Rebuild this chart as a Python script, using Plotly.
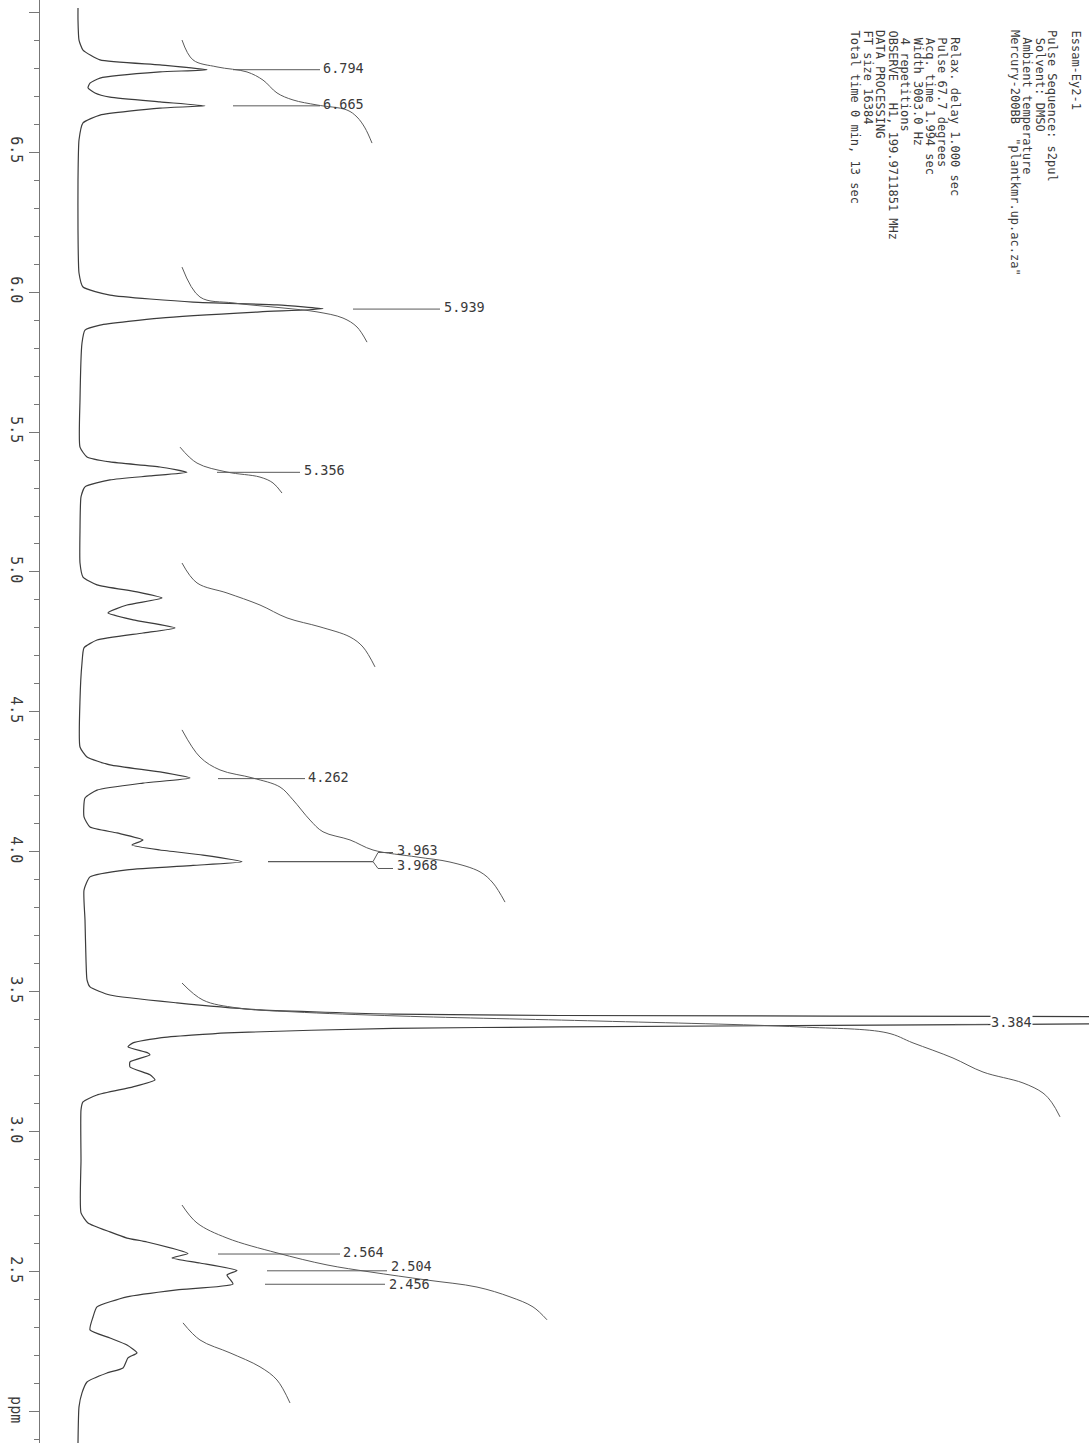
import plotly.graph_objects as go

# ---------------- data ----------------
# 1H spectrum trace: chemical shift (ppm) and intensity (arbitrary units)
spec_ppm = [7.014, 6.971, 6.900, 6.864, 6.829, 6.811, 6.794, 6.786, 6.764, 6.746,
            6.729, 6.711, 6.696, 6.679, 6.665, 6.657, 6.632, 6.604, 6.543, 6.400,
            6.221, 6.068, 6.018, 5.989, 5.964, 5.954, 5.940, 5.929, 5.907, 5.882,
            5.864, 5.818, 5.614, 5.446, 5.411, 5.393, 5.375, 5.356, 5.343, 5.329,
            5.304, 5.268, 5.150, 5.032, 4.982, 4.954, 4.929, 4.907, 4.882, 4.854,
            4.829, 4.800, 4.782, 4.757, 4.729, 4.675, 4.543, 4.375, 4.339, 4.311,
            4.286, 4.264, 4.246, 4.221, 4.193, 4.125, 4.089, 4.068, 4.043, 4.025,
            4.007, 3.989, 3.965, 3.952, 3.936, 3.911, 3.864, 3.757, 3.614, 3.543,
            3.518, 3.489, 3.461, 3.436, 3.421, 3.416, 3.412, 3.400, 3.386, 3.375,
            3.370, 3.354, 3.336, 3.318, 3.304, 3.282, 3.275, 3.250, 3.232, 3.204,
            3.186, 3.161, 3.132, 3.107, 3.079, 2.900, 2.711, 2.675, 2.643, 2.621,
            2.607, 2.566, 2.550, 2.532, 2.505, 2.489, 2.457, 2.436, 2.411, 2.375,
            2.339, 2.293, 2.264, 2.239, 2.211, 2.193, 2.157, 2.139, 2.107, 2.068,
            2.018, 1.889]
spec_int = [-1, -1, 0, 4, 21, 81, 128, 81, 21, 11,
            9, 16, 31, 81, 126, 81, 21, 4, 0, -1,
            -1, 0, 4, 31, 114, 198, 244, 181, 81, 21,
            6, 3, 1, 1, 8, 31, 81, 108, 71, 31,
            6, 2, 1, 1, 4, 18, 58, 83, 48, 29,
            54, 96, 64, 18, 5, 3, 1, 1, 8, 31,
            81, 111, 64, 18, 6, 5, 11, 38, 64, 53,
            81, 124, 163, 114, 48, 11, 5, 6, 7, 8,
            11, 31, 98, 181, 314, 481, 1010, 1600, 1010, 481,
            314, 148, 81, 54, 49, 69, 71, 51, 51, 71,
            76, 54, 18, 4, 2, 2, 2, 9, 31, 48,
            68, 109, 93, 121, 158, 148, 154, 98, 48, 18,
            14, 11, 31, 48, 58, 49, 44, 28, 8, 3,
            0, -1]

# integral curves
int1_ppm = [6.900, 6.829, 6.804, 6.786, 6.757, 6.711, 6.686, 6.668, 6.650, 6.625, 6.586, 6.532]
int1_val = [103, 114, 138, 168, 184, 198, 214, 238, 268, 278, 286, 293]
int2_ppm = [6.089, 5.982, 5.961, 5.943, 5.929, 5.907, 5.875, 5.821]
int2_val = [103, 121, 154, 204, 238, 264, 278, 288]
int3_ppm = [5.446, 5.389, 5.357, 5.339, 5.318, 5.282]
int3_val = [101, 118, 148, 181, 194, 203]
int4_ppm = [5.032, 4.961, 4.925, 4.882, 4.836, 4.804, 4.768, 4.732, 4.661]
int4_val = [103, 118, 148, 181, 208, 241, 271, 284, 296]
int5_ppm = [4.436, 4.339, 4.293, 4.264, 4.232, 4.186, 4.114, 4.072, 4.043, 4.007,
            3.982, 3.964, 3.929, 3.889, 3.821]
int5_val = [103, 121, 141, 174, 201, 214, 231, 244, 271, 294, 338, 371, 401, 414, 426]
int6_ppm = [3.532, 3.471, 3.443, 3.429, 3.414, 3.396, 3.375, 3.354, 3.318, 3.264,
            3.214, 3.175, 3.139, 3.104, 3.054]
int6_val = [103, 124, 158, 214, 321, 521, 721, 808, 834, 874, 904, 944, 964, 973, 981]
int7_ppm = [2.739, 2.675, 2.621, 2.568, 2.525, 2.500, 2.471, 2.446, 2.411, 2.375, 2.329]
int7_val = [103, 118, 148, 198, 248, 291, 348, 398, 431, 454, 468]
int8_ppm = [2.318, 2.257, 2.211, 2.161, 2.114, 2.032]
int8_val = [104, 121, 151, 181, 198, 211]

# peak picks
peak_ppm = [6.794, 6.665, 5.939, 5.356, 4.262, 3.384, 2.564, 2.504, 2.456]
peak_labels = ["6.794", "6.665", "5.939", "5.356", "4.262", "3.384", "2.564", "2.504", "2.456"]
pair_ppm = 3.9655
pair_labels = ["3.963", "3.968"]

# axis ticks
major_ticks = [7.0, 6.5, 6.0, 5.5, 5.0, 4.5, 4.0, 3.5, 3.0, 2.5, 2.0]
major_text = ["", "6.5", "6.0", "5.5", "5.0", "4.5", "4.0", "3.5", "3.0", "2.5", "ppm"]

# acquisition parameter block
param_lines = [
    "Essam-Ey2-1",
    "Pulse Sequence: s2pul",
    "\u00a0Solvent: DMSO",
    "\u00a0Ambient temperature",
    "Mercury-200BB\u00a0\u00a0\"plantkmr.up.ac.za\"",
    "\u00a0Relax. delay 1.000 sec",
    "\u00a0Pulse 67.7 degrees",
    "\u00a0Acq. time 1.994 sec",
    "\u00a0Width 3003.0 Hz",
    "\u00a04 repetitions",
    "OBSERVE\u00a0\u00a0\u00a0H1, 199.9711851 MHz",
    "DATA PROCESSING",
    "FT size 16384",
    "Total time 0 min, 13 sec",
]

# ---------------- layout / styling ----------------
W, H = 1089, 1443
PPM_TOP, PPM_BOT = 7.043, 1.889
INT_LEFT, INT_RIGHT = -39, 1010
LINE_COL = "#3c3c3c"
THIN_COL = "#5a5a5a"
TXT_COL = "#3a3a3a"
MONO = "DejaVu Sans Mono, Liberation Mono, monospace"
LAB_SIZE = 13.5

def px_to_int(px):
    return INT_LEFT + (px - 40) * (INT_RIGHT - INT_LEFT) / (W - 40)

def py_to_ppm(py):
    return PPM_TOP - py * (PPM_TOP - PPM_BOT) / H

fig = go.Figure()
fig.add_trace(go.Scatter(x=spec_int, y=spec_ppm, mode="lines",
                         line=dict(color=LINE_COL, width=1.2, shape="spline", smoothing=0.5),
                         hoverinfo="skip"))
for xs, ys in [(int1_val, int1_ppm), (int2_val, int2_ppm), (int3_val, int3_ppm),
               (int4_val, int4_ppm), (int5_val, int5_ppm), (int6_val, int6_ppm),
               (int7_val, int7_ppm), (int8_val, int8_ppm)]:
    fig.add_trace(go.Scatter(x=xs, y=ys, mode="lines", line_shape="spline",
                             line=dict(color=THIN_COL, width=1), hoverinfo="skip"))

# peak label leaders (start/end of the leader, left edge of the text, text shift in px)
lab_x0 = [154, 154, 274, 138, 139, 876, 139, 188, 186]
lab_x1 = [241, 241, 361, 221, 226, 909, 261, 308, 306]
lab_tx = [243, 243, 364, 224, 228, 911, 263, 311, 309]
lab_dy = [2, 2, 2, 2, 2, 2, 2, 5, 0]

shapes = []
annotations = []
for p, t, a, b, tx, dy in zip(peak_ppm, peak_labels, lab_x0, lab_x1, lab_tx, lab_dy):
    shapes.append(dict(type="line", xref="x", yref="y", x0=a, x1=b, y0=p, y1=p,
                       line=dict(color=THIN_COL, width=1)))
    annotations.append(dict(x=tx, y=p, xref="x", yref="y", text=t, showarrow=False,
                            xanchor="left", yanchor="middle", yshift=dy,
                            bgcolor="white" if t == "3.384" else None, borderpad=0,
                            font=dict(family=MONO, size=LAB_SIZE, color=TXT_COL)))

# bracketed pair 3.963 / 3.968
up_ppm, dn_ppm = 3.998, 3.941
shapes.append(dict(type="line", xref="x", yref="y", x0=189, x1=294, y0=pair_ppm, y1=pair_ppm,
                   line=dict(color=THIN_COL, width=1.3)))
for yy, t in [(up_ppm, pair_labels[0]), (dn_ppm, pair_labels[1])]:
    shapes.append(dict(type="line", xref="x", yref="y", x0=294, x1=299, y0=pair_ppm, y1=yy,
                       line=dict(color=THIN_COL, width=1)))
    shapes.append(dict(type="line", xref="x", yref="y", x0=299, x1=314, y0=yy, y1=yy,
                       line=dict(color=THIN_COL, width=1)))
    annotations.append(dict(x=316, y=yy, xref="x", yref="y", text=t, showarrow=False,
                            xanchor="left", yanchor="middle", yshift=3,
                            font=dict(family=MONO, size=LAB_SIZE, color=TXT_COL)))

# parameter block, rotated like the rest of the page
param_px = [1076, 1052, 1040, 1027.5, 1015, 955, 942.5, 930, 917.5, 905, 892.5, 880, 867.5, 855]
for line, px in zip(param_lines, param_px):
    annotations.append(dict(x=px_to_int(px), y=py_to_ppm(28), xref="x", yref="y",
                            text=line, showarrow=False, textangle=90,
                            xanchor="center", yanchor="top",
                            font=dict(family=MONO, size=12, color=TXT_COL)))

minor_ticks = [round(7.0 - 0.1 * i, 1) for i in range(52)]
minor_ticks = [m for m in minor_ticks if m not in major_ticks and PPM_BOT < m < PPM_TOP]

fig.update_layout(
    width=W, height=H, margin=dict(l=40, r=0, t=0, b=0),
    paper_bgcolor="white", plot_bgcolor="white", showlegend=False,
    shapes=shapes, annotations=annotations,
    xaxis=dict(range=[INT_LEFT, INT_RIGHT], visible=False, fixedrange=True),
    yaxis=dict(range=[PPM_BOT, PPM_TOP], showgrid=False, zeroline=False,
               showline=True, linecolor="#777777", linewidth=1,
               ticks="outside", ticklen=10, tickwidth=1, tickcolor="#777777",
               tickmode="array", tickvals=major_ticks, ticktext=major_text,
               tickangle=90, tickfont=dict(family=MONO, size=15, color=TXT_COL),
               minor=dict(tickmode="array", tickvals=minor_ticks, ticks="outside",
                          ticklen=5, tickwidth=1, tickcolor="#777777", showgrid=False),
               fixedrange=True),
)

fig.write_html("out.html")
